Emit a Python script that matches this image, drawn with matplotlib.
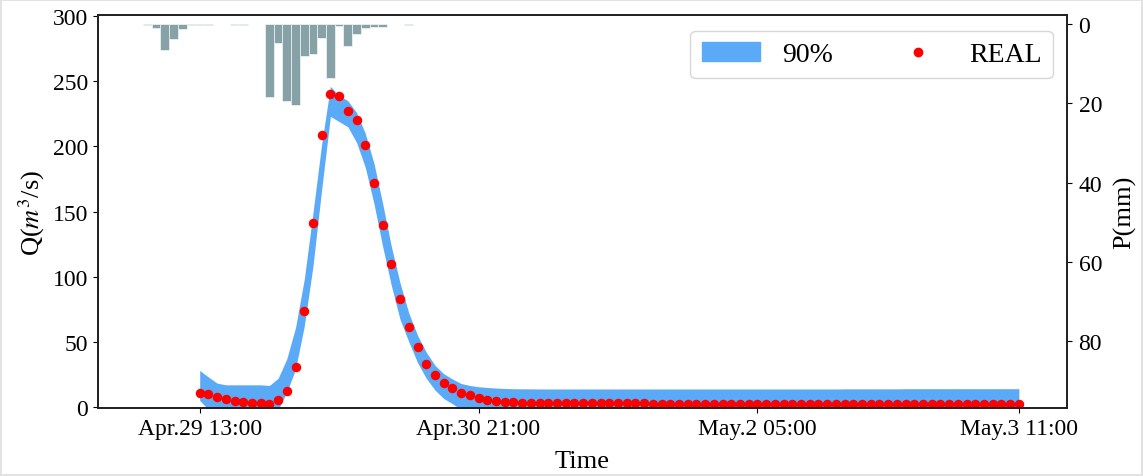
import numpy as np
import matplotlib
matplotlib.use('Agg')
import matplotlib.pyplot as plt
from matplotlib.patches import Patch
from matplotlib.lines import Line2D

plt.rcParams['font.family'] = ['Liberation Serif', 'DejaVu Serif']
plt.rcParams['mathtext.fontset'] = 'stix'

# hourly flow, hour 0 = Apr.29 13:00
hours = np.arange(95)

real_q = [10.5, 10, 8, 6.3, 4.8, 4, 3.3, 2.7, 2.4, 5,
          12, 31, 74, 141, 209, 240, 239, 227, 220, 201,
          172, 140, 110, 83, 61, 46, 33, 24.5, 18.5, 14.5,
          11, 8.8, 6.7, 5.3, 4.4, 3.8, 3.5,
          3.1, 3.0, 3.0, 2.9, 2.9, 2.9, 2.8, 2.8, 2.8, 2.8,
          2.7, 2.7, 2.7, 2.7, 2.7, 2.6, 2.6, 2.6, 2.6, 2.6,
          2.6, 2.5, 2.5, 2.5, 2.5, 2.5, 2.5, 2.5, 2.4, 2.4,
          2.4, 2.4, 2.4, 2.4, 2.4, 2.4, 2.3, 2.3, 2.3, 2.3,
          2.3, 2.3, 2.3, 2.3, 2.3, 2.2, 2.2, 2.2, 2.2, 2.2,
          2.2, 2.2, 2.2, 2.2, 2.2, 2.1, 2.1, 2.1]

upper_q = [28, 23, 18.3, 17, 17, 17, 17, 17, 16.5, 22,
           37, 61, 98, 149, 202, 246, 239, 235, 226, 210,
           187, 156, 123, 95, 72, 55, 42, 32, 25.5, 21.5,
           18, 16.5, 15.5, 15, 14.5, 14.2, 14,
           13.9, 13.9, 13.8, 13.8, 13.8, 13.8, 13.8, 13.8, 13.8, 13.8,
           13.8, 13.8, 13.8, 13.8, 13.8, 13.8, 13.8, 13.8, 13.8, 13.8,
           13.8, 13.8, 13.8, 13.8, 13.8, 13.8, 13.8, 13.8, 13.8, 13.8,
           13.8, 13.8, 13.8, 13.8, 13.8, 13.8, 13.8, 13.9, 13.9, 13.9,
           13.9, 13.9, 13.9, 13.9, 14.0, 14.0, 14.0, 14.0, 14.0, 14.0,
           14.0, 14.0, 14.0, 14.0, 14.0, 14.0, 14.0, 14.0]

lower_q = [5, -2, -2, -2, -2, -2, -2, -2, -2, -2,
           11.4, 29, 62, 108, 167, 223, 219, 215, 203, 184,
           156, 123, 93, 67, 50, 34, 22, 13, 6.5, 2.5,
           -2, -2, -2, -2, -2, -2, -2,
           -2, -2, -2, -2, -2, -2, -2, -2, -2, -2,
           -2, -2, -2, -2, -2, -2, -2, -2, -2, -2,
           -2, -2, -2, -2, -2, -2, -2, -2, -2, -2,
           -2, -2, -2, -2, -2, -2, -2, -2, -2, -2,
           -2, -2, -2, -2, -2, -2, -2, -2, -2, -2,
           -2, -2, -2, -2, -2, -2, -2, -2]

# hourly rainfall, starting 6 hours before the flow record
rain_hours = np.arange(-6, 25)
rain_mm = [0.3, 1.0, 6.5, 3.8, 1.3, 0.3, 0.3, 0.2, 0, 0,
           0.2, 0.2, 0, 0, 18.5, 4.8, 19.4, 20.4, 8.0, 7.4,
           3.5, 13.7, 0.5, 5.6, 2.4, 1.0, 0.6, 0.6, 0, 0,
           0.2]

tick_pos = [0, 32, 64, 94]
tick_labels = ['Apr.29 13:00', 'Apr.30 21:00', 'May.2 05:00', 'May.3 11:00']

fig = plt.figure(figsize=(11.43, 4.77), dpi=100)
fig.patch.set_edgecolor('#e2e2e2')
fig.patch.set_linewidth(1.5)
ax = fig.add_axes([0.0855, 0.142, 0.8478, 0.825])

ax.fill_between(hours, lower_q, upper_q, color='#5aaaf8', linewidth=0)
ax.scatter(hours, real_q, s=34, color='red', zorder=3)

ax.set_xlim(-11.7, 99.5)
ax.set_ylim(-1, 301)
ax.set_xticks(tick_pos)
ax.set_xticklabels(tick_labels)
ax.set_yticks([0, 50, 100, 150, 200, 250, 300])
ax.tick_params(labelsize=17)
ax.set_xlabel('Time', fontsize=19, labelpad=8)
ax.set_ylabel('Q($m^3$/s)', fontsize=19)

# rainfall on a second, inverted axis
ax2 = ax.twinx()
ax2.bar(rain_hours, rain_mm, width=1.0, color='#86a2a6', edgecolor='white', linewidth=0.4)
ax2.set_ylim(97, -2.4)
ax2.set_yticks([0, 20, 40, 60, 80])
ax2.tick_params(labelsize=17, pad=5)
ax2.set_ylabel('P(mm)', fontsize=19, labelpad=8)

for a in (ax, ax2):
    for sp in a.spines.values():
        sp.set_linewidth(1.3)
        sp.set_color('#222222')

handles = [Patch(facecolor='#5aaaf8', edgecolor='#5aaaf8'),
           Line2D([], [], marker='o', color='red', linestyle='', markersize=6)]
ax2.legend(handles, ['90%', 'REAL'], loc='upper right', ncol=2, fontsize=20,
           handlelength=2.1, handletextpad=0.8, columnspacing=2.0,
           borderpad=0.4, borderaxespad=0, bbox_to_anchor=(0.9856, 0.9593))

plt.savefig('out.png', dpi=100)
